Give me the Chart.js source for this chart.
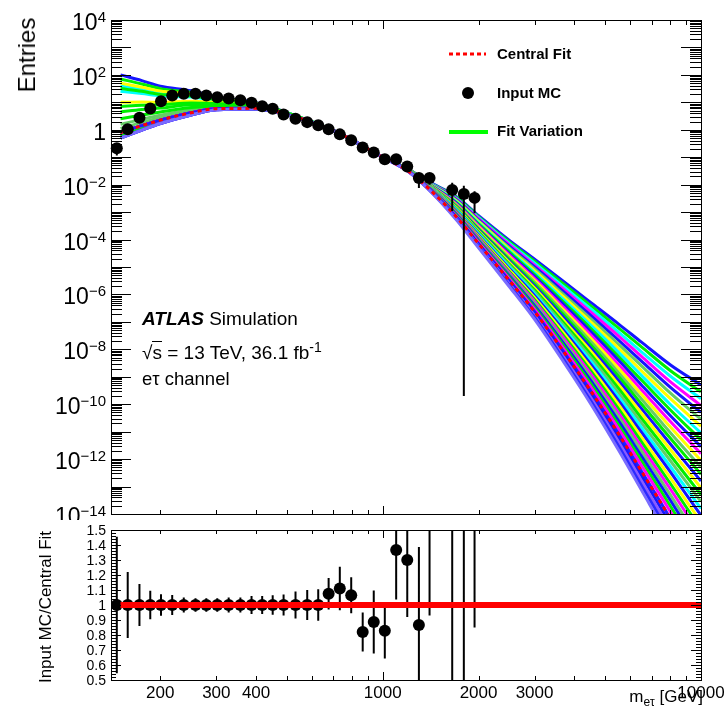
<!DOCTYPE html>
<html>
<head>
<meta charset="utf-8">
<script src="https://cdn.jsdelivr.net/npm/chart.js@4.4.1/dist/chart.umd.min.js"></script>
<style>
  body { margin: 0; background: #fff; }
  #wrap { position: relative; width: 728px; height: 714px; overflow: hidden;
          font-family: "Liberation Sans", Arial, Helvetica, sans-serif; color: #000; }
  #topCanvas { position: absolute; left: 0; top: 0; z-index: 1; }
  #ratioCanvas { position: absolute; left: 0; top: 520px; z-index: 3; background: #fff; }
  .lbl { position: absolute; white-space: nowrap; line-height: 1; }
  .sup { font-size: 15px; position: relative; top: -8px; }
  .sub { font-size: 12px; position: relative; top: 4px; }
</style>
</head>
<body>
<div id="wrap">
  <canvas id="topCanvas" width="728" height="520"></canvas>
  <canvas id="ratioCanvas" width="728" height="194"></canvas>
</div>
<script>
// ---- data ----

// mass points (GeV) where the fit curves are sampled
var fitMass = [150, 175, 200, 250, 300, 400, 500, 700, 1000, 1200, 1400, 1700, 2000, 2500, 3000, 3700, 4500, 5500, 6500, 8000, 10000];

// central fit, log10(entries)
var centralFitLog = [-0.1, 0.15, 0.35, 0.62, 0.77, 0.78, 0.56, -0.03, -1.0, -1.5, -2.16, -3.16, -4.15, -5.5, -6.63, -8.08, -9.51, -11.07, -12.44, -14.15, -16.1];

// fit variations, log10(entries), one row per curve (upper tail first)
var variationLog = [
  [2.0, 1.79, 1.59, 1.42, 1.19, 0.99, 0.62, -0.03, -1.0, -1.43, -1.90, -2.43, -3.13, -4.03, -4.72, -5.53, -6.29, -7.07, -7.74, -8.56, -9.3],
  [1.85, 1.67, 1.50, 1.36, 1.16, 0.98, 0.62, -0.03, -1.0, -1.43, -1.91, -2.46, -3.17, -4.09, -4.79, -5.62, -6.41, -7.22, -7.91, -8.77, -9.55],
  [1.6, 1.48, 1.35, 1.27, 1.11, 0.95, 0.61, -0.03, -1.0, -1.44, -1.92, -2.49, -3.20, -4.14, -4.86, -5.72, -6.52, -7.37, -8.09, -8.97, -9.8],
  [-0.1, 0.15, 0.35, 0.62, 0.77, 0.78, 0.56, -0.03, -1.0, -1.44, -1.93, -2.51, -3.24, -4.19, -4.93, -5.81, -6.64, -7.51, -8.26, -9.18, -10.05],
  [-0.2, 0.07, 0.29, 0.58, 0.75, 0.77, 0.56, -0.03, -1.0, -1.44, -1.94, -2.54, -3.28, -4.25, -5.0, -5.90, -6.76, -7.66, -8.43, -9.38, -10.3],
  [0.2, 0.38, 0.53, 0.73, 0.83, 0.81, 0.57, -0.03, -1.0, -1.44, -1.95, -2.57, -3.32, -4.30, -5.07, -6.0, -6.88, -7.81, -8.60, -9.59, -10.55],
  [1.7, 1.55, 1.41, 1.30, 1.13, 0.96, 0.61, -0.03, -1.0, -1.45, -1.96, -2.59, -3.35, -4.36, -5.14, -6.09, -7.0, -7.95, -8.78, -9.79, -10.8],
  [1.4, 1.32, 1.24, 1.19, 1.07, 0.93, 0.61, -0.03, -1.0, -1.45, -1.97, -2.62, -3.39, -4.41, -5.21, -6.19, -7.12, -8.10, -8.95, -10.0, -11.05],
  [1.5, 1.40, 1.29, 1.23, 1.09, 0.94, 0.61, -0.03, -1.0, -1.45, -1.98, -2.65, -3.43, -4.46, -5.28, -6.28, -7.23, -8.25, -9.12, -10.2, -11.3],
  [-0.1, 0.15, 0.35, 0.62, 0.77, 0.78, 0.56, -0.03, -1.0, -1.45, -1.99, -2.67, -3.47, -4.52, -5.35, -6.37, -7.35, -8.39, -9.30, -10.41, -11.55],
  [-0.2, 0.07, 0.29, 0.58, 0.75, 0.77, 0.56, -0.03, -1.0, -1.46, -2.0, -2.70, -3.50, -4.57, -5.42, -6.47, -7.47, -8.54, -9.47, -10.62, -11.8],
  [1.0, 1.01, 1.0, 1.04, 0.99, 0.89, 0.59, -0.03, -1.0, -1.46, -2.01, -2.73, -3.54, -4.63, -5.49, -6.56, -7.59, -8.69, -9.64, -10.82, -12.05],
  [0.05, 0.27, 0.44, 0.68, 0.80, 0.80, 0.56, -0.03, -1.0, -1.46, -2.02, -2.75, -3.58, -4.68, -5.56, -6.65, -7.71, -8.84, -9.81, -11.03, -12.3],
  [0.85, 0.89, 0.91, 0.98, 0.96, 0.88, 0.59, -0.03, -1.0, -1.46, -2.03, -2.78, -3.62, -4.73, -5.63, -6.75, -7.83, -8.98, -9.99, -11.23, -12.55],
  [-0.1, 0.15, 0.35, 0.62, 0.77, 0.78, 0.56, -0.03, -1.0, -1.47, -2.03, -2.81, -3.65, -4.79, -5.70, -6.84, -7.95, -9.13, -10.16, -11.44, -12.8],
  [-0.2, 0.07, 0.29, 0.58, 0.75, 0.77, 0.56, -0.03, -1.0, -1.47, -2.04, -2.83, -3.69, -4.84, -5.77, -6.94, -8.06, -9.28, -10.33, -11.64, -13.05],
  [0.65, 0.74, 0.79, 0.91, 0.92, 0.86, 0.58, -0.03, -1.0, -1.47, -2.05, -2.86, -3.73, -4.90, -5.84, -7.03, -8.18, -9.42, -10.51, -11.85, -13.3],
  [-0.1, 0.15, 0.35, 0.62, 0.77, 0.78, 0.56, -0.03, -1.0, -1.47, -2.06, -2.89, -3.77, -4.95, -5.91, -7.12, -8.30, -9.57, -10.68, -12.05, -13.55],
  [-0.2, 0.07, 0.29, 0.58, 0.75, 0.77, 0.56, -0.03, -1.0, -1.48, -2.07, -2.91, -3.80, -5.0, -5.98, -7.22, -8.42, -9.72, -10.85, -12.26, -13.8],
  [-0.1, 0.15, 0.35, 0.62, 0.77, 0.78, 0.56, -0.03, -1.0, -1.48, -2.08, -2.94, -3.84, -5.06, -6.05, -7.31, -8.54, -9.86, -11.02, -12.46, -14.05],
  [-0.2, 0.07, 0.29, 0.58, 0.75, 0.77, 0.56, -0.03, -1.0, -1.48, -2.09, -2.97, -3.88, -5.11, -6.12, -7.40, -8.66, -10.01, -11.20, -12.67, -14.3],
  [0.4, 0.54, 0.65, 0.81, 0.87, 0.83, 0.58, -0.03, -1.0, -1.48, -2.10, -2.99, -3.92, -5.17, -6.19, -7.50, -8.78, -10.16, -11.37, -12.88, -14.55],
  [-0.1, 0.15, 0.35, 0.62, 0.77, 0.78, 0.56, -0.03, -1.0, -1.49, -2.11, -3.02, -3.95, -5.22, -6.26, -7.59, -8.89, -10.31, -11.54, -13.08, -14.8],
  [-0.2, 0.07, 0.29, 0.58, 0.75, 0.77, 0.56, -0.03, -1.0, -1.49, -2.12, -3.05, -3.99, -5.27, -6.33, -7.69, -9.01, -10.45, -11.71, -13.29, -15.05],
  [-0.1, 0.15, 0.35, 0.62, 0.77, 0.78, 0.56, -0.03, -1.0, -1.49, -2.13, -3.07, -4.03, -5.33, -6.41, -7.78, -9.13, -10.60, -11.89, -13.49, -15.3],
  [-0.2, 0.07, 0.29, 0.58, 0.75, 0.77, 0.56, -0.03, -1.0, -1.49, -2.14, -3.10, -4.07, -5.38, -6.48, -7.87, -9.25, -10.75, -12.06, -13.70, -15.55],
  [-0.1, 0.15, 0.35, 0.62, 0.77, 0.78, 0.56, -0.03, -1.0, -1.5, -2.15, -3.13, -4.10, -5.44, -6.55, -7.97, -9.37, -10.89, -12.23, -13.90, -15.8],
  [-0.1, 0.15, 0.35, 0.62, 0.77, 0.78, 0.56, -0.03, -1.0, -1.5, -2.16, -3.16, -4.15, -5.5, -6.63, -8.08, -9.51, -11.07, -12.44, -14.15, -16.1],
  [-0.3, -0.01, 0.23, 0.54, 0.73, 0.76, 0.55, -0.03, -1.0, -1.5, -2.17, -3.19, -4.19, -5.55, -6.70, -8.17, -9.63, -11.22, -12.61, -14.36, -16.35],
  [-0.3, -0.01, 0.23, 0.54, 0.73, 0.76, 0.55, -0.03, -1.0, -1.51, -2.18, -3.21, -4.23, -5.61, -6.77, -8.27, -9.75, -11.36, -12.79, -14.56, -16.6],
  [-0.3, -0.01, 0.23, 0.54, 0.73, 0.76, 0.55, -0.03, -1.0, -1.51, -2.19, -3.24, -4.26, -5.66, -6.84, -8.36, -9.87, -11.51, -12.96, -14.77, -16.85],
  [-0.3, -0.01, 0.23, 0.54, 0.73, 0.76, 0.55, -0.03, -1.0, -1.51, -2.20, -3.27, -4.30, -5.72, -6.91, -8.46, -9.98, -11.66, -13.13, -14.97, -17.1]
];
var variationColours = [
  '#1515ff', '#00ee00', '#00ffff', '#ff00ff', '#1515ff', '#66cc66', '#ffff00', '#00ffff',
  '#00ee00', '#1515ff', '#ff00ff', '#ffff00', '#66cc66', '#00ee00', '#1515ff', '#ffff00',
  '#00ee00', '#66cc66', '#00ffff', '#1515ff', '#ffff00', '#00ee00', '#ff00ff', '#66cc66',
  '#1515ff', '#00ee00', '#ff00ff', '#2020ff', '#1515ff', '#8a5cff', '#2a2aff', '#7a6cff'
];

// Input MC histogram
var mcMass = [146, 158, 172, 186, 201, 218, 237, 258, 279, 302, 328, 357, 387, 418, 451, 488,
              532, 579, 627, 676, 733, 796, 865, 937, 1015, 1102, 1194, 1299, 1403, 1653, 1798, 1943];
var mcEntries = [0.213, 1.04, 2.75, 5.98, 11.0, 17.7, 20.4, 20.4, 17.7, 15.3, 13.8, 11.9, 9.6, 7.2, 5.8, 3.6,
                 2.5, 1.9, 1.45, 1.04, 0.68, 0.415, 0.225, 0.149, 0.085, 0.085, 0.046, 0.0174, 0.0174, 0.0064, 0.0046, 0.0033];
var mcError = [0.097, 0.23, 0.39, 0.57, 0.79, 1.2, 1.0, 0.92, 0.8, 0.69, 0.69, 0.6, 0.58, 0.43, 0.38, 0.25,
               0.23, 0.19, 0.15, 0.11, 0.099, 0.05, 0.029, 0.031, 0.016, 0.028, 0.017, 0.0098, 0.0075, 0.0053, 0.0045999998, 0.0024];

// ratio Input MC / Central Fit
var ratioValue = [1, 1, 1, 1, 1, 1, 1, 1, 1, 1, 1, 1, 1, 1, 1, 1,
                  1, 1, 1, 1.075, 1.11, 1.065, 0.82, 0.887, 0.829, 1.367, 1.30, 0.867, 1.65, 2.0, 1.6, 3.05];
var ratioError = [0.455, 0.22, 0.14, 0.095, 0.072, 0.067, 0.05, 0.045, 0.045, 0.045, 0.05, 0.05, 0.06, 0.06, 0.065, 0.07,
                  0.09, 0.1, 0.105, 0.105, 0.145, 0.12, 0.13, 0.21, 0.185, 0.33, 0.38, 0.52, 0.72, 1.66, 1.6, 2.2];
var ratioLineMass = [150, 10000];
var ratioLineValue = [1, 1];

// axis labels
var yTickExponents = [4, 2, 0, -2, -4, -6, -8, -10, -12, -14];
var xTickLabels = [200, 300, 400, 1000, 2000, 3000, 10000];
var ratioTickValues = [0.5, 0.6, 0.7, 0.8, 0.9, 1.0, 1.1, 1.2, 1.3, 1.4, 1.5];
var ratioTickLabels = ['0.5', '0.6', '0.7', '0.8', '0.9', '1', '1.1', '1.2', '1.3', '1.4', '1.5'];

// ---- helpers ----
function points(xs, ys) {
    var out = [];
    for (var i = 0; i < xs.length; i++) out.push({ x: xs[i], y: ys[i] });
    return out;
}
function logPoints(xs, logs) {
    var out = [];
    for (var i = 0; i < xs.length; i++) out.push({ x: xs[i], y: Math.pow(10, logs[i]) });
    return out;
}

// inward ROOT-style ticks on a log x axis
function logXTicks(ctx, scale, yEdge, dir, minorLen, majorLen) {
    for (var e = 2; e <= 4; e++) {
        for (var m = 1; m <= 9; m++) {
            var v = m * Math.pow(10, e);
            if (v < scale.min || v > scale.max) continue;
            var x = Math.round(scale.getPixelForValue(v)) + 0.5;
            var len = m === 1 ? majorLen : minorLen;
            ctx.moveTo(x, yEdge);
            ctx.lineTo(x, yEdge + dir * len);
        }
    }
}
function logYTicks(ctx, scale, xEdge, dir, minorLen, majorLen) {
    for (var e = -14; e <= 4; e++) {
        for (var m = 1; m <= 9; m++) {
            var v = m * Math.pow(10, e);
            if (v < scale.min * 0.999 || v > scale.max * 1.001) continue;
            var y = Math.round(scale.getPixelForValue(v)) + 0.5;
            var len = m === 1 ? majorLen : minorLen;
            ctx.moveTo(xEdge, y);
            ctx.lineTo(xEdge + dir * len, y);
        }
    }
}

var errorBarPlugin = {
    id: 'errorBars',
    draw: function (chart, opts) {
        var ctx = chart.ctx, a = chart.chartArea;
        var xs = chart.scales.x, ys = chart.scales.y;
        ctx.save();
        ctx.beginPath();
        ctx.rect(a.left, a.top, a.right - a.left, a.bottom - a.top);
        ctx.clip();
        ctx.strokeStyle = '#000';
        ctx.lineWidth = 2;
        ctx.beginPath();
        for (var i = 0; i < opts.mass.length; i++) {
            var x = xs.getPixelForValue(opts.mass[i]);
            var lo = opts.value[i] - opts.error[i];
            var hi = opts.value[i] + opts.error[i];
            if (lo < ys.min) lo = ys.min;
            ctx.moveTo(x, ys.getPixelForValue(lo));
            ctx.lineTo(x, ys.getPixelForValue(hi));
        }
        ctx.stroke();
        ctx.restore();
    },
    beforeDatasetsDraw: function (chart, args, opts) {
        if (opts.under) this.draw(chart, opts);
    },
    afterDatasetsDraw: function (chart, args, opts) {
        if (!opts.under) this.draw(chart, opts);
    }
};

var topFramePlugin = {
    id: 'topFrame',
    afterDraw: function (chart) {
        var ctx = chart.ctx, a = chart.chartArea;
        var xs = chart.scales.x, ys = chart.scales.y;
        ctx.save();
        ctx.strokeStyle = '#000';
        ctx.lineWidth = 1;
        ctx.beginPath();
        logXTicks(ctx, xs, a.bottom, -1, 4, 8);
        logXTicks(ctx, xs, a.top, 1, 5, 9);
        logYTicks(ctx, ys, a.left, 1, 11, 20);
        logYTicks(ctx, ys, a.right, -1, 11, 20);
        ctx.stroke();
        ctx.strokeRect(Math.round(a.left) + 0.5, Math.round(a.top) + 0.5,
                       Math.round(a.right - a.left), Math.round(a.bottom - a.top));

        // legend symbols
        ctx.strokeStyle = '#ff0000';
        ctx.lineWidth = 3;
        ctx.setLineDash([4, 3]);
        ctx.beginPath();
        ctx.moveTo(449, 54);
        ctx.lineTo(486, 54);
        ctx.stroke();
        ctx.setLineDash([]);
        ctx.fillStyle = '#000';
        ctx.beginPath();
        ctx.arc(468, 93, 6, 0, Math.PI * 2);
        ctx.fill();
        ctx.strokeStyle = '#00ff00';
        ctx.lineWidth = 4;
        ctx.beginPath();
        ctx.moveTo(449, 132);
        ctx.lineTo(488, 132);
        ctx.stroke();
        ctx.restore();
    }
};

var ratioFramePlugin = {
    id: 'ratioFrame',
    afterDraw: function (chart) {
        var ctx = chart.ctx, a = chart.chartArea;
        var xs = chart.scales.x, ys = chart.scales.y;
        ctx.save();
        ctx.strokeStyle = '#000';
        ctx.lineWidth = 1;
        ctx.beginPath();
        logXTicks(ctx, xs, a.bottom, -1, 4, 8);
        logXTicks(ctx, xs, a.top, 1, 4, 8);
        for (var k = 0; k <= 50; k++) {
            var v = 0.5 + k * 0.02;
            var y = Math.round(ys.getPixelForValue(v)) + 0.5;
            var len = (k % 5 === 0) ? 10 : 5;
            ctx.moveTo(a.left, y);
            ctx.lineTo(a.left + len, y);
            ctx.moveTo(a.right, y);
            ctx.lineTo(a.right - len, y);
        }
        ctx.stroke();
        ctx.strokeRect(Math.round(a.left) + 0.5, Math.round(a.top) + 0.5,
                       Math.round(a.right - a.left), Math.round(a.bottom - a.top));
        ctx.restore();
    }
};

// ---- top panel ----
// Chart.js paints dataset 0 last, so markers come first, the fan last
var topDatasets = [];
topDatasets.push({
    label: 'Input MC',
    data: points(mcMass, mcEntries),
    showLine: false,
    pointRadius: 6,
    pointBackgroundColor: '#000',
    pointBorderWidth: 0,
    clip: false
});
topDatasets.push({
    label: 'Central Fit',
    data: logPoints(fitMass, centralFitLog),
    borderColor: '#ff0000',
    borderWidth: 3,
    borderDash: [4, 4],
    pointRadius: 0,
    cubicInterpolationMode: 'monotone',
    clip: 0
});
for (var i = variationLog.length - 1; i >= 0; i--) {
    topDatasets.push({
        label: 'Fit Variation',
        data: logPoints(fitMass, variationLog[i]),
        borderColor: variationColours[i],
        borderWidth: 3,
        pointRadius: 0,
        cubicInterpolationMode: 'monotone',
        clip: 0
    });
}

var topChart = new Chart(document.getElementById('topCanvas'), {
    type: 'line',
    data: { datasets: topDatasets },
    options: {
        responsive: false,
        animation: false,
        events: [],
        layout: { padding: { left: 111, right: 27, top: 20, bottom: 3 } },
        plugins: {
            legend: { display: false },
            tooltip: { enabled: false },
            errorBars: { mass: mcMass, value: mcEntries, error: mcError, under: false }
        },
        scales: {
            x: { type: 'logarithmic', min: 140, max: 10000, display: false },
            y: { type: 'logarithmic', min: 1e-14, max: 1e4, display: false }
        }
    },
    plugins: [errorBarPlugin, topFramePlugin]
});

// ---- ratio panel ----
var ratioChart = new Chart(document.getElementById('ratioCanvas'), {
    type: 'line',
    data: {
        datasets: [{
            label: 'Central Fit',
            data: points(ratioLineMass, ratioLineValue),
            borderColor: '#ff0000',
            borderWidth: 6,
            pointRadius: 0,
            clip: 0
        }, {
            label: 'Input MC/Central Fit',
            data: points(mcMass, ratioValue),
            showLine: false,
            pointRadius: 6,
            pointBackgroundColor: '#000',
            pointBorderWidth: 0,
            clip: 0
        }]
    },
    options: {
        responsive: false,
        animation: false,
        events: [],
        layout: { padding: { left: 111, right: 27, top: 10, bottom: 34 } },
        plugins: {
            legend: { display: false },
            tooltip: { enabled: false },
            errorBars: { mass: mcMass, value: ratioValue, error: ratioError, under: true }
        },
        scales: {
            x: { type: 'logarithmic', min: 140, max: 10000, display: false },
            y: { type: 'linear', min: 0.5, max: 1.5, display: false }
        }
    },
    plugins: [errorBarPlugin, ratioFramePlugin]
});

// ---- text ----
var wrap = document.getElementById('wrap');
function addLabel(html, css) {
    var d = document.createElement('div');
    d.className = 'lbl';
    d.innerHTML = html;
    for (var k in css) d.style[k] = css[k];
    wrap.appendChild(d);
    return d;
}

yTickExponents.forEach(function (e) {
    var y = topChart.scales.y.getPixelForValue(Math.pow(10, e));
    var txt = e === 0 ? '1' : '10<span class="sup">' + (e < 0 ? '\u2212' + (-e) : e) + '</span>';
    addLabel(txt, { right: (728 - 106) + 'px', top: (y - 9) + 'px', fontSize: '23px', zIndex: 2 });
});

ratioTickValues.forEach(function (v, i) {
    var y = 520 + ratioChart.scales.y.getPixelForValue(v);
    addLabel(ratioTickLabels[i], { right: (728 - 106) + 'px', top: (y - 7) + 'px', fontSize: '14px', zIndex: 4 });
});

xTickLabels.forEach(function (v) {
    var x = ratioChart.scales.x.getPixelForValue(v);
    addLabel(String(v), { left: x + 'px', top: '684px', fontSize: '17px', transform: 'translateX(-50%)', zIndex: 4 });
});

addLabel('m<span class="sub">e\u03c4</span> [GeV]', { right: '25px', top: '688px', fontSize: '17px', zIndex: 5 });

addLabel('Entries', { left: '27px', top: '55px', fontSize: '24px',
    transform: 'translate(-50%, -50%) rotate(-90deg)', zIndex: 2 });
addLabel('Input MC/Central Fit', { left: '45px', top: '607px', fontSize: '17px',
    transform: 'translate(-50%, -50%) rotate(-90deg)', zIndex: 4 });

addLabel('<b><i>ATLAS</i></b> Simulation', { left: '142px', top: '309px', fontSize: '19px', zIndex: 2 });
addLabel('\u221a<span style="border-top:1px solid #000">s</span> = 13 TeV, 36.1 fb<span class="sup" style="font-size:14px;top:-7px">-1</span>',
    { left: '142px', top: '343px', fontSize: '19px', zIndex: 2 });
addLabel('e\u03c4 channel', { left: '142px', top: '370px', fontSize: '18.5px', zIndex: 2 });

addLabel('Central Fit', { left: '497px', top: '46px', fontSize: '15px', fontWeight: 'bold', zIndex: 2 });
addLabel('Input MC', { left: '497px', top: '85px', fontSize: '15px', fontWeight: 'bold', zIndex: 2 });
addLabel('Fit Variation', { left: '497px', top: '123px', fontSize: '15px', fontWeight: 'bold', zIndex: 2 });
</script>
</body>
</html>
